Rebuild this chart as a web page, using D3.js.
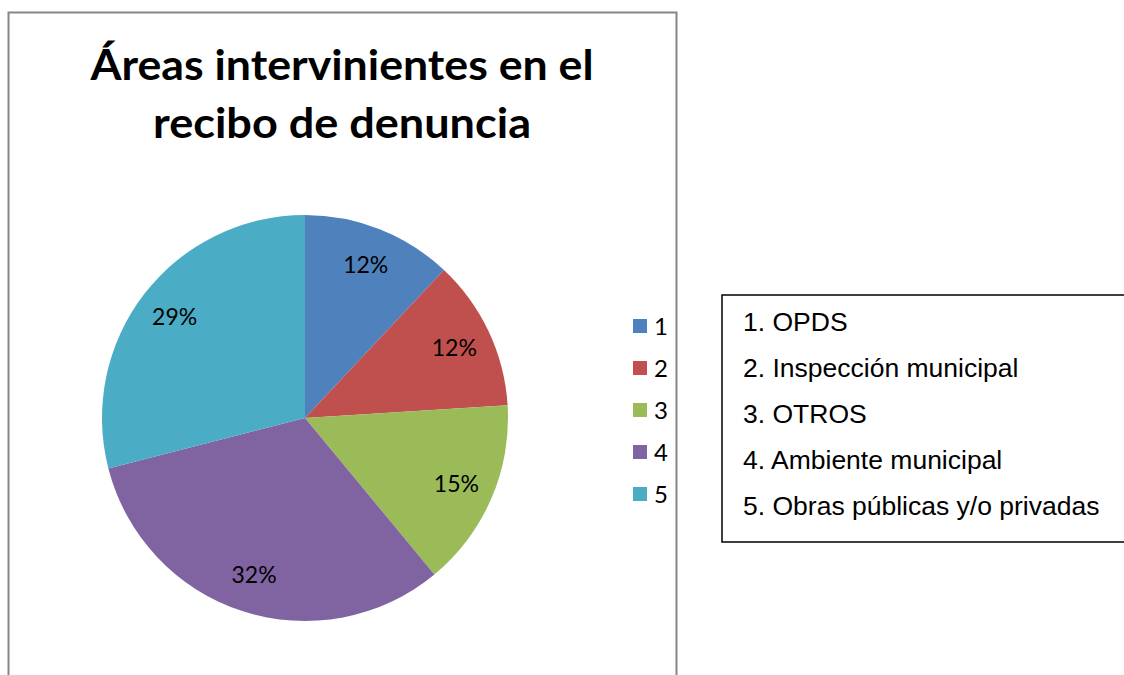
<!DOCTYPE html>
<html>
<head>
<meta charset="utf-8">
<script src="https://cdn.jsdelivr.net/npm/d3@7"></script>
<style>
  body { margin: 0; background: #fff; }
  svg { display: block; }
</style>
</head>
<body>
<div id="chart"></div>
<script>
// data
const categories = ["1", "2", "3", "4", "5"];
const values = [12, 12, 15, 32, 29];
const colors = ["#4F81BD", "#C0504D", "#9BBB59", "#8064A2", "#4BACC6"];
const titleLines = ["Áreas intervinientes en el", "recibo de denuncia"];
const noteLines = ["1. OPDS", "2. Inspección municipal", "3. OTROS", "4. Ambiente municipal", "5. Obras públicas y/o privadas"];

const width = 1124, height = 675;

let svg = d3.select("#chart")
    .append("svg")
    .attr("width", width)
    .attr("height", height);

// chart frame
svg.append("rect")
    .attr("x", 8.5).attr("y", 12.5)
    .attr("width", 668).attr("height", 700)
    .style("fill", "none")
    .style("stroke", "#868686")
    .style("stroke-width", 2);

// title
const titleWidths = [503, 378];
svg.append("g").attr("class", "title")
    .selectAll("text")
    .data(titleLines)
    .enter()
    .append("text")
    .attr("x", 342)
    .attr("y", (d, i) => 80 + i * 58)
    .attr("text-anchor", "middle")
    .attr("textLength", (d, i) => titleWidths[i])
    .attr("lengthAdjust", "spacingAndGlyphs")
    .style("font-family", "Lato, 'Open Sans', sans-serif")
    .style("font-weight", "bold")
    .style("font-size", "42px")
    .style("fill", "#000")
    .text(d => d);

// pie
const cx = 305, cy = 418, radius = 203;
let pie = d3.pie().sort(null).value(d => d)(values);
let arc = d3.arc().innerRadius(0).outerRadius(radius);
let labelArc = d3.arc().innerRadius(165).outerRadius(165);
let color = d3.scaleOrdinal().domain(categories).range(colors);

let g = svg.append("g").attr("transform", "translate(" + cx + "," + cy + ")");

g.selectAll("path")
    .data(pie)
    .enter()
    .append("path")
    .attr("d", arc)
    .style("fill", (d, i) => color(categories[i]));

g.selectAll("text")
    .data(pie)
    .enter()
    .append("text")
    .attr("transform", d => "translate(" + labelArc.centroid(d) + ")")
    .attr("text-anchor", "middle")
    .attr("dy", "0.35em")
    .style("font-family", "Lato, 'Open Sans', sans-serif")
    .style("font-size", "23px")
    .style("fill", "#000")
    .text(d => d3.format(".0%")(d.data / d3.sum(values)));

// legend
let legend = svg.append("g").attr("class", "legend")
    .selectAll("g")
    .data(categories)
    .enter()
    .append("g")
    .attr("transform", (d, i) => "translate(633," + (326 + i * 42) + ")");

legend.append("rect")
    .attr("x", 0).attr("y", -7)
    .attr("width", 14).attr("height", 14)
    .style("fill", d => color(d));

legend.append("text")
    .attr("x", 21)
    .attr("dy", "0.36em")
    .style("font-family", "Lato, 'Open Sans', sans-serif")
    .style("font-size", "24px")
    .style("fill", "#000")
    .text(d => d);

// side box with category names
svg.append("rect")
    .attr("x", 722).attr("y", 295)
    .attr("width", 420).attr("height", 247)
    .style("fill", "#fff")
    .style("stroke", "#000")
    .style("stroke-width", 1.5);

svg.append("g").attr("class", "notes")
    .selectAll("text")
    .data(noteLines)
    .enter()
    .append("text")
    .attr("x", 743)
    .attr("y", (d, i) => 331 + i * 46)
    .style("font-family", "'Liberation Sans', Arial, sans-serif")
    .style("font-size", "26.5px")
    .style("fill", "#000")
    .text(d => d);
</script>
</body>
</html>
